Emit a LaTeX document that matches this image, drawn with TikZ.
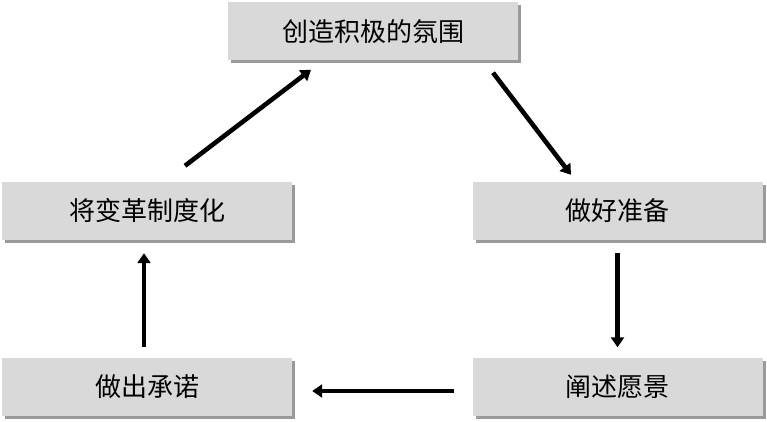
\documentclass[tikz,border=0pt]{standalone}
\usepackage{fontspec}
\newfontfamily\cjk{Noto Sans CJK SC}
\usetikzlibrary{arrows.meta,shadows}
\definecolor{boxfill}{HTML}{D9D9D9}
\definecolor{shadowgray}{HTML}{9A9A9A}
\begin{document}
\begin{tikzpicture}[x=1pt,y=-1pt,
  stagebox/.style={rectangle, fill=boxfill, minimum width=290pt, minimum height=58pt,
    inner sep=0pt, font=\cjk\fontsize{26}{30}\selectfont,
    drop shadow={shadow xshift=3pt, shadow yshift=-3pt, fill=shadowgray, opacity=1}},
  arr/.style={line width=4.6pt, -{Triangle[length=10pt,width=13pt]}}]
\useasboundingbox (0,0) rectangle (767,422);
\node[stagebox] (T) at (373,31.5) {创造积极的氛围};
\node[stagebox] (L) at (147,211) {将变革制度化};
\node[stagebox] (R) at (617.5,211) {做好准备};
\node[stagebox] (BL) at (147,386.5) {做出承诺};
\node[stagebox] (BR) at (617.5,386.5) {阐述愿景};
\draw[arr] ([shift={(38pt,16pt)}]L.north) -- ([shift={(-62pt,-9pt)}]T.south);
\draw[arr] ([shift={(120pt,-12pt)}]T.south) -- ([shift={(-46.5pt,7pt)}]R.north);
\draw[arr] ([shift={(0pt,-13pt)}]R.south) -- ([shift={(0pt,10pt)}]BR.north);
\draw[arr] ([shift={(-18pt,-4.5pt)}]BR.west) -- ([shift={(20pt,-4.5pt)}]BL.east);
\draw[arr] ([shift={(-3pt,10pt)}]BL.north) -- ([shift={(-3pt,-13pt)}]L.south);
\end{tikzpicture}
\end{document}
